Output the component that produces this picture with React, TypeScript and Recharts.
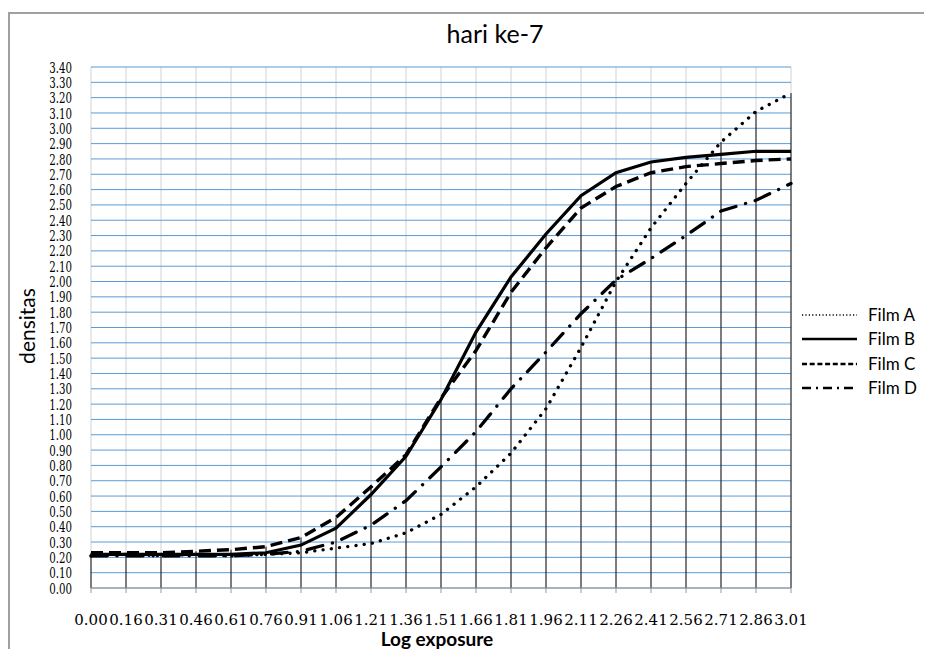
import React from 'react';
import { LineChart, Line, XAxis, YAxis, CartesianGrid, ReferenceLine, Legend } from 'recharts';

const xLabels = ['0.00', '0.16', '0.31', '0.46', '0.61', '0.76', '0.91', '1.06', '1.21', '1.36', '1.51', '1.66', '1.81', '1.96', '2.11', '2.26', '2.41', '2.56', '2.71', '2.86', '3.01'];

const filmA = [0.21, 0.22, 0.21, 0.22, 0.21, 0.22, 0.23, 0.26, 0.29, 0.36, 0.48, 0.66, 0.88, 1.17, 1.57, 2.0, 2.35, 2.64, 2.91, 3.11, 3.23];
const filmB = [0.22, 0.22, 0.22, 0.22, 0.22, 0.23, 0.28, 0.39, 0.61, 0.86, 1.23, 1.67, 2.03, 2.31, 2.56, 2.71, 2.78, 2.81, 2.83, 2.85, 2.85];
const filmC = [0.23, 0.23, 0.23, 0.24, 0.25, 0.27, 0.33, 0.46, 0.66, 0.87, 1.24, 1.55, 1.93, 2.22, 2.48, 2.62, 2.71, 2.75, 2.77, 2.79, 2.8];
const filmD = [0.21, 0.21, 0.21, 0.21, 0.21, 0.22, 0.24, 0.3, 0.41, 0.57, 0.79, 1.02, 1.3, 1.54, 1.79, 2.01, 2.15, 2.3, 2.46, 2.53, 2.64];

const seriesNames = ['Film A', 'Film B', 'Film C', 'Film D'];

const yTicks = [0, 0.1, 0.2, 0.3, 0.4, 0.5, 0.6, 0.7, 0.8, 0.9, 1.0, 1.1, 1.2, 1.3, 1.4, 1.5, 1.6, 1.7, 1.8, 1.9, 2.0, 2.1, 2.2, 2.3, 2.4, 2.5, 2.6, 2.7, 2.8, 2.9, 3.0, 3.1, 3.2, 3.3, 3.4];

const title = 'hari ke-7';
const xTitle = 'Log exposure';
const yTitle = 'densitas';

const data = xLabels.map((label, i) => ({
  idx: i,
  label,
  filmA: filmA[i],
  filmB: filmB[i],
  filmC: filmC[i],
  filmD: filmD[i],
}));

const majorTicks = xLabels.map((_, i) => i);
const minorTicks = xLabels.flatMap((_, i) => (i < xLabels.length - 1 ? [i, i + 0.5] : [i]));
const dropTops = xLabels.map((_, i) => Math.max(filmA[i], filmB[i], filmC[i], filmD[i]));

const styles = [
  { key: 'filmA', dash: '0.1 8.2', cap: 'round', width: 3.3, lDash: '1.2 2.2', lWidth: 1.6, lCap: 'butt' },
  { key: 'filmB', dash: undefined, cap: 'butt', width: 3.2, lDash: undefined, lWidth: 2.6, lCap: 'butt' },
  { key: 'filmC', dash: '12 6', cap: 'butt', width: 3.4, lDash: '5 2.7', lWidth: 2.6, lCap: 'butt' },
  { key: 'filmD', dash: '16 10 0.1 10', cap: 'round', width: 3.3, lDash: '9 5 2 5', lWidth: 2.6, lCap: 'butt' },
];

const YTick = (props: any) => {
  const { x, y, payload } = props;
  return (
    <g transform={`translate(${x},${y})`}>
      <text
        x={0}
        y={0}
        dy="0.36em"
        textAnchor="end"
        transform="scale(0.66,1)"
        fontFamily="DejaVu Serif"
        fontSize={15.5}
        fill="#000"
      >
        {Number(payload.value).toFixed(2)}
      </text>
    </g>
  );
};

const renderLegend = () => (
  <div style={{ fontFamily: 'Lato', fontSize: 17, color: '#000' }}>
    {styles.map((s, i) => (
      <div key={s.key} style={{ display: 'flex', alignItems: 'center', height: 24.3 }}>
        <svg width={56} height={10} style={{ display: 'block' }}>
          <line x1={0} y1={5} x2={55} y2={5} stroke="#000" strokeWidth={s.lWidth} strokeDasharray={s.lDash} strokeLinecap={s.lCap as any} />
        </svg>
        <span style={{ marginLeft: 10, lineHeight: '24px' }}>{seriesNames[i]}</span>
      </div>
    ))}
  </div>
);

export default function App() {
  return (
    <div style={{ position: 'relative', width: 924, height: 641, overflow: 'hidden', background: '#fff' }}>
      <style>{'html,body{overflow:hidden;}'}</style>
      <div
        style={{
          position: 'absolute',
          left: 0,
          top: 4,
          width: 1200,
          height: 1000,
          borderLeft: '2px solid #a0a0a0',
          borderTop: '2px solid #a0a0a0',
          boxSizing: 'border-box',
        }}
      />
      <div
        style={{
          position: 'absolute',
          left: 387,
          width: 200,
          top: 10,
          textAlign: 'center',
          fontFamily: 'Lato',
          fontSize: 25,
          color: '#000',
        }}
      >
        {title}
      </div>
      <div
        style={{
          position: 'absolute',
          left: 18,
          top: 318,
          transform: 'translate(-50%, -50%) rotate(-90deg)',
          fontFamily: 'Lato',
          fontSize: 21,
          color: '#000',
          whiteSpace: 'nowrap',
        }}
      >
        {yTitle}
      </div>
      <div
        style={{
          position: 'absolute',
          left: 329,
          width: 200,
          top: 621,
          height: 19,
          lineHeight: '19px',
          textAlign: 'center',
          fontFamily: 'Lato',
          fontWeight: 'bold',
          fontSize: 19,
          color: '#000',
          whiteSpace: 'nowrap',
        }}
      >
        {xTitle}
      </div>
      <div style={{ position: 'absolute', left: 0, top: 0 }}>
        <LineChart width={924} height={641} data={data} margin={{ top: 59, right: 141, bottom: 21, left: 13 }}>
          <XAxis
            xAxisId="minor"
            type="number"
            dataKey="idx"
            domain={[0, xLabels.length - 1]}
            ticks={minorTicks}
            hide
          />
          <XAxis
            xAxisId="main"
            type="number"
            dataKey="idx"
            domain={[0, xLabels.length - 1]}
            ticks={majorTicks}
            interval={0}
            tickFormatter={(v: number) => xLabels[v]}
            tickSize={5}
            tickMargin={21}
            height={40}
            stroke="#9a9a9a"
            tick={{ fill: '#000', fontFamily: 'DejaVu Serif', fontSize: 15 }}
          />
          <YAxis
            type="number"
            domain={[0, 3.4]}
            ticks={yTicks}
            interval={0}
            width={70}
            tickSize={0}
            tickMargin={19}
            axisLine={false}
            tickLine={false}
            tick={<YTick />}
          />
          <CartesianGrid xAxisId="minor" horizontal={false} stroke="#d2d2d2" strokeWidth={1} />
          <CartesianGrid xAxisId="main" vertical={false} stroke="#5b9bd5" strokeWidth={1} />
          {majorTicks.map((i) => (
            <ReferenceLine
              key={`drop-${i}`}
              xAxisId="main"
              segment={[
                { x: i, y: 0 },
                { x: i, y: dropTops[i] },
              ]}
              stroke="#111"
              strokeWidth={1}
            />
          ))}
          {styles.map((s, i) => (
            <Line
              key={s.key}
              xAxisId="main"
              type="linear"
              dataKey={s.key}
              name={seriesNames[i]}
              stroke="#000"
              strokeWidth={s.width}
              strokeDasharray={s.dash}
              strokeLinecap={s.cap as any}
              dot={false}
              activeDot={false}
              isAnimationActive={false}
            />
          ))}
          <Legend
            verticalAlign="middle"
            align="center"
            layout="horizontal"
            content={renderLegend}
            wrapperStyle={{ position: 'absolute', left: 794, top: 295, width: 120 }}
          />
        </LineChart>
      </div>
    </div>
  );
}
